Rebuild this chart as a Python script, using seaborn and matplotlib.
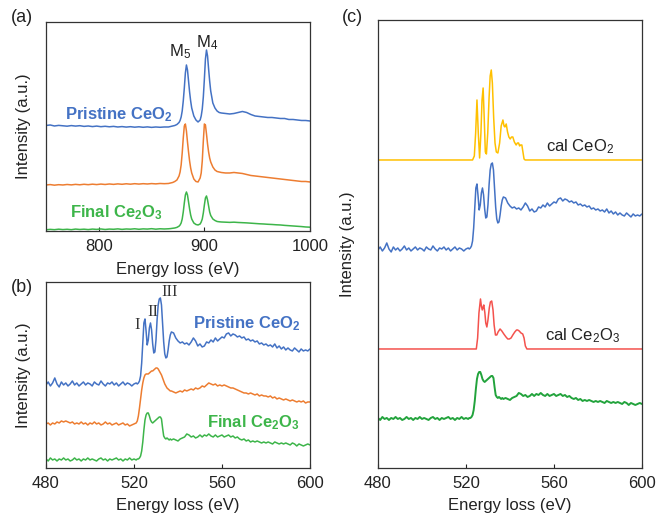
import numpy as np
import matplotlib
matplotlib.use("Agg")
import matplotlib.pyplot as plt
import seaborn as sns

# ---------------- Ce M-edge (panel a) ----------------
e_ce = np.concatenate([
    np.arange(750, 866, 4),
    [866, 868, 870, 872, 874, 876, 877, 878, 879, 880, 881, 882, 883, 884, 885, 886, 887, 888,
     890, 892, 894, 896, 897, 898, 899, 900, 901, 902, 903, 904, 905, 906, 908, 910, 912, 914],
    np.arange(916, 1001, 4),
])

ce_pristine = [
    105.5, 106, 105, 105.6, 105.2, 104.8, 105.4, 104.9, 105.3, 104.6,
    105, 104.4, 104.9, 104.3, 104.7, 104.2, 104.6, 104, 104.4, 103.9,
    104.3, 103.8, 104.2, 103.7, 104.1, 103.6, 104, 103.7, 104,
    104, 104.5, 105, 105.5, 106.5, 108.5, 110.5, 114, 120, 130, 143, 158, 166, 161, 150, 139, 130, 123,
    115, 111, 109, 111, 115, 122, 134, 152, 172, 181, 175, 162, 150, 140, 128, 123, 120, 118.5,
    118, 117.5, 117, 117.5, 118.5, 119.5, 118.5, 116.5, 115, 114.5, 114,
    113.5, 113.5, 113, 112.5, 112.5, 111.5, 111.5, 111, 110.5, 110.5, 110,
]
ce_middle = [
    46, 46.4, 45.8, 46.3, 46, 46.5, 46.1, 46.6, 46.2, 46.7,
    46.3, 46.8, 46.4, 46.9, 46.5, 47, 46.6, 47.1, 46.7, 47.2,
    46.8, 47.3, 46.9, 47.3, 47, 47.4, 47.1, 47.5, 47.3,
    47.5, 48, 48.5, 49.5, 51, 55, 59, 66, 78, 93, 105, 107, 100, 89, 79, 70, 63, 58,
    52, 49.5, 49, 53, 58, 70, 90, 107, 106, 97, 87, 79, 73, 69, 64, 61, 59.5, 59,
    58.5, 58, 58, 58.5, 58, 57.5, 56.5, 55.5, 55, 54.5, 54,
    53.5, 53, 52.5, 52, 51.5, 51, 50.5, 50, 49.5, 49.5, 49,
]
ce_final = [
    1.2, 1.6, 1.3, 1.8, 1.4, 1.7, 1.3, 1.9, 1.5, 1.8,
    1.4, 1.9, 1.6, 2, 1.5, 1.9, 1.7, 2.1, 1.6, 2,
    1.8, 2.2, 1.7, 2.1, 1.9, 2.3, 1.8, 2.2, 2,
    2.2, 2.4, 2.7, 3, 3.6, 4.8, 6, 8, 12, 19, 28, 36, 39, 36, 29, 22, 16, 12,
    8, 6.5, 6, 7, 9, 12, 18, 26, 33, 35, 31, 25, 19, 15.5, 12, 10.5, 9.5, 9.2,
    9, 8.8, 8.6, 8.8, 8.5, 8.3, 8.1, 7.8, 7.5, 7.2, 7,
    6.7, 6.5, 6.2, 6, 5.6, 5.3, 5, 4.7, 4.4, 4, 3.8,
]

# ---------------- O K-edge (panels b, c) ----------------
e_o = np.concatenate([np.arange(480, 522, 1.0), np.arange(521.5, 537, 0.5), np.arange(537, 601, 1.0)])

o_pristine = [
    83, 86, 82, 85, 90, 84, 81, 86, 83, 85,
    82, 84, 87, 83, 85, 82, 84, 86, 83, 85,
    84, 82, 86, 84, 83, 87, 84, 82, 85, 84,
    86, 83, 85, 82, 84, 86, 83, 85, 84, 82,
    84, 85,
    84, 85, 87, 92, 105, 125, 145, 149, 137, 123,
    128, 140, 145, 138, 124, 115, 116, 128, 148, 163,
    169, 170, 163, 145, 126, 114, 110, 111, 118, 127,
    133,
    136, 135, 130, 127, 125, 126, 124, 125, 123, 126,
    130, 127, 122, 124, 121, 122, 126, 125, 128, 126,
    130, 127, 129, 131, 130, 134, 135, 132, 134, 133,
    131, 132, 130, 131, 128, 129, 127, 128, 126, 127,
    124, 125, 123, 124, 122, 123, 121, 124, 120, 122,
    119, 121, 118, 120, 118, 117, 120, 118, 116, 119,
    117, 118, 117, 119,
]
o_middle = [
    44, 45, 43, 45, 44, 46, 45, 47, 46, 47,
    46, 45, 46, 44, 45, 44, 46, 44, 45, 43,
    45, 44, 46, 44, 45, 43, 44, 46, 44, 45,
    43, 44, 45, 43, 44, 45, 43, 44, 42, 43,
    44, 45,
    47, 52, 60, 69, 78, 85, 90, 93, 94, 94,
    94, 95, 96, 97, 97, 98, 99, 100, 100, 99,
    97, 95, 93, 90, 87, 84, 82, 80, 79, 78,
    77,
    77, 76, 75, 76, 77, 76, 78, 77, 78, 79,
    78, 80, 79, 80, 82, 81, 83, 85, 84, 83,
    84, 82, 83, 82, 83, 82, 81, 80, 80, 79,
    78, 77, 76, 75, 75, 74, 75, 74, 73, 74,
    72, 73, 72, 72, 71, 72, 70, 71, 69, 70,
    69, 68, 69, 68, 67, 68, 67, 66, 67, 66,
    67, 65, 66, 66,
]
o_final = [
    9, 7, 10, 8, 9, 7, 9, 8, 10, 8,
    9, 7, 8, 10, 8, 9, 7, 9, 8, 10,
    8, 9, 8, 7, 9, 10, 8, 9, 7, 9,
    8, 9, 10, 8, 9, 7, 9, 8, 10, 8,
    9, 8,
    9, 9, 10, 12, 17, 26, 38, 48, 53, 55,
    55, 52, 48, 46, 45, 46, 47, 48, 49, 50,
    51, 51, 49, 40, 32, 30, 29, 30, 29, 28,
    29,
    28, 29, 28, 27, 29, 30, 31, 34, 33, 31,
    32, 30, 31, 33, 31, 33, 32, 34, 32, 31,
    33, 31, 32, 33, 31, 32, 33, 31, 32, 30,
    31, 29, 28, 29, 27, 28, 26, 27, 26, 27,
    26, 25, 26, 25, 26, 25, 24, 26, 25, 24,
    25, 24, 25, 24, 23, 25, 24, 22, 24, 23,
    22, 23, 24, 23,
]

# calculated spectra (panel c)
e_cal_ceo2 = [480, 523.0, 523.8, 524.4, 525.0, 525.6, 526.2, 526.8, 527.3, 527.8,
              528.3, 528.8, 529.3, 529.9, 530.5, 531.0, 531.5, 532.0, 532.6, 533.2,
              533.8, 534.5, 535.3, 536.0, 536.8, 537.3, 537.7, 538.3, 538.9, 539.5,
              540.1, 540.7, 541.3, 542.0, 542.8, 543.4, 543.9, 544.4, 544.8, 545.4,
              545.9, 546.4, 546.9, 600]
cal_ceo2 = [308, 308, 312, 335, 368, 335, 310, 335, 368, 380,
            350, 316, 314, 335, 370, 392, 398, 385, 350, 325,
            316, 315, 325, 342, 348, 342, 341, 344, 336, 331,
            329, 331, 331, 326, 323, 325, 325, 322, 323, 323,
            316, 309, 308, 308]
e_cal_ce2o3 = [480, 524.7, 525.3, 525.9, 526.6, 527.0, 527.4, 527.8, 528.1, 528.6,
               529.0, 529.5, 530.0, 530.6, 531.1, 531.7, 532.3, 532.8, 533.4, 534.0,
               534.6, 535.5, 536.3, 537.2, 538.2, 539.0, 539.7, 540.5, 541.3, 542.2,
               543.0, 543.5, 544.2, 545.0, 545.8, 546.4, 547.0, 547.7, 600]
cal_ce2o3 = [119, 119, 130, 155, 169, 162, 158, 161, 163, 155,
             145, 141, 148, 160, 166, 167, 158, 143, 133, 133,
             136, 139, 137, 134, 131, 129, 129, 130, 133, 136,
             138, 138, 137, 135, 134, 130, 122, 119, 119]

# vertical offsets of the measured spectra in panel c
off_c_pristine = 135
off_c_final = 41

BLUE = "#4472C4"
ORANGE = "#ED7D31"
GREEN = "#3DB54A"
GREEN_C = "#22A33C"
YELLOW = "#FFC000"
RED = "#F4524D"
TXT = "#222222"

sns.set_theme(style="white")
plt.rcParams["font.family"] = ["Liberation Sans", "DejaVu Sans"]
plt.rcParams["mathtext.fontset"] = "custom"
plt.rcParams["mathtext.rm"] = "Liberation Sans"
plt.rcParams["mathtext.it"] = "Liberation Sans:italic"
plt.rcParams["mathtext.bf"] = "Liberation Sans:bold"


def style(ax, xlim, ylim, ticks, xlab_off, ylab_off):
    ax.set_xlim(*xlim)
    ax.set_ylim(*ylim)
    ax.set_xticks(ticks)
    ax.set_yticks([])
    ax.tick_params(axis="x", direction="in", length=3, width=0.8, pad=6,
                   labelsize=12, colors=TXT, bottom=True)
    for s in ax.spines.values():
        s.set_color("#333333")
        s.set_linewidth(0.9)
    ax.set_xlabel("Energy loss (eV)", fontsize=12, color=TXT)
    ax.set_ylabel("Intensity (a.u.)", fontsize=12, color=TXT)
    ax.xaxis.set_label_coords(0.5, xlab_off)
    ax.yaxis.set_label_coords(ylab_off, 0.5)


fig = plt.figure(figsize=(6.57, 5.15), dpi=100)
ax_a = fig.add_axes([0.0700, 0.5515, 0.4018, 0.4058])
ax_b = fig.add_axes([0.0700, 0.0913, 0.4018, 0.3612])
ax_c = fig.add_axes([0.5753, 0.0913, 0.4018, 0.8699])

# panel a
for y, c in [(ce_pristine, BLUE), (ce_middle, ORANGE), (ce_final, GREEN)]:
    sns.lineplot(x=e_ce, y=y, ax=ax_a, color=c, lw=1.1)
style(ax_a, (750, 1000), (0, 209), [800, 900, 1000], -0.15, -0.057)
ax_a.text(876.5, 179, r"M$_5$", fontsize=12, color=TXT, ha="center", va="center")
ax_a.text(902.5, 188, r"M$_4$", fontsize=12, color=TXT, ha="center", va="center")
ax_a.text(870, 116, r"Pristine CeO$_\mathbf{2}$", fontsize=12, fontweight="bold",
          color=BLUE, ha="right", va="center")
ax_a.text(861, 18, r"Final Ce$_\mathbf{2}$O$_\mathbf{3}$", fontsize=12, fontweight="bold",
          color=GREEN, ha="right", va="center")

# panel b
for y, c in [(o_pristine, BLUE), (o_middle, ORANGE), (o_final, GREEN)]:
    sns.lineplot(x=e_o, y=y, ax=ax_b, color=c, lw=1.1)
style(ax_b, (480, 600), (0, 186), [480, 520, 560, 600], -0.16, -0.057)
for lab, ex, ey in [("I", 521.4, 143), ("II", 528.6, 156), ("III", 536.4, 176)]:
    ax_b.text(ex, ey, lab, fontsize=12, family="Liberation Serif", color="#333333",
              ha="center", va="center")
ax_b.text(547, 144, r"Pristine CeO$_\mathbf{2}$", fontsize=12, fontweight="bold",
          color=BLUE, ha="left", va="center")
ax_b.text(553, 45, r"Final Ce$_\mathbf{2}$O$_\mathbf{3}$", fontsize=12, fontweight="bold",
          color=GREEN, ha="left", va="center")

# panel c
sns.lineplot(x=e_cal_ceo2, y=cal_ceo2, ax=ax_c, color=YELLOW, lw=1.1)
sns.lineplot(x=e_o, y=np.array(o_pristine) + off_c_pristine, ax=ax_c, color=BLUE, lw=1.1)
sns.lineplot(x=e_cal_ce2o3, y=cal_ce2o3, ax=ax_c, color=RED, lw=1.1)
sns.lineplot(x=e_o, y=np.array(o_final) + off_c_final, ax=ax_c, color=GREEN_C, lw=1.4)
style(ax_c, (480, 600), (0, 448), [480, 520, 560, 600], -0.067, -0.087)
ax_c.text(556.5, 321, r"cal CeO$_2$", fontsize=12, color=TXT, ha="left", va="center")
ax_c.text(556, 132, r"cal Ce$_2$O$_3$", fontsize=12, color=TXT, ha="left", va="center")

# panel letters
fig.text(22 / 657, 1 - 18 / 515, "(a)", fontsize=13, color=TXT, ha="center", va="center")
fig.text(22 / 657, 1 - 287 / 515, "(b)", fontsize=13, color=TXT, ha="center", va="center")
fig.text(352 / 657, 1 - 18 / 515, "(c)", fontsize=13, color=TXT, ha="center", va="center")

fig.savefig("out.png", dpi=100)
